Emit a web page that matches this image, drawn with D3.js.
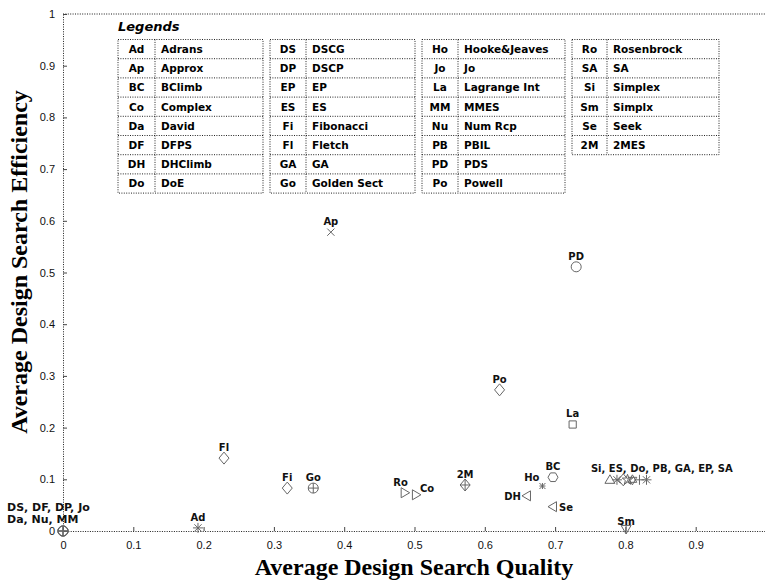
<!DOCTYPE html>
<html>
<head>
<meta charset="utf-8">
<script src="https://cdn.jsdelivr.net/npm/d3@7"></script>
<style>
  body { margin: 0; background: #fff; }
  svg { display: block; }
</style>
</head>
<body>
<svg id="chart" width="765" height="581"></svg>
<script>
// ---- Legend columns: abbreviation and full method name ----
const legendAbbr1 = ["Ad", "Ap", "BC", "Co", "Da", "DF", "DH", "Do"];
const legendName1 = ["Adrans", "Approx", "BClimb", "Complex", "David", "DFPS", "DHClimb", "DoE"];
const legendAbbr2 = ["DS", "DP", "EP", "ES", "Fi", "Fl", "GA", "Go"];
const legendName2 = ["DSCG", "DSCP", "EP", "ES", "Fibonacci", "Fletch", "GA", "Golden Sect"];
const legendAbbr3 = ["Ho", "Jo", "La", "MM", "Nu", "PB", "PD", "Po"];
const legendName3 = ["Hooke&Jeaves", "Jo", "Lagrange Int", "MMES", "Num Rcp", "PBIL", "PDS", "Powell"];
const legendAbbr4 = ["Ro", "SA", "Si", "Sm", "Se", "2M"];
const legendName4 = ["Rosenbrock", "SA", "Simplex", "Simplx", "Seek", "2MES"];

// ---- Search methods: average quality (x) and average efficiency (y) ----
const methods    = ["DS", "DF", "DP", "Jo", "Da", "Nu", "MM", "Ad", "Fl", "Fi", "Go", "Ap", "Ro", "Co", "2M",
                    "Po", "DH", "Ho", "BC", "Se", "La", "PD", "Si", "ES", "Do", "PB", "GA", "EP", "SA", "Sm"];
const quality    = [0, 0, 0, 0, 0, 0, 0, 0.192, 0.229, 0.319, 0.356, 0.381, 0.486, 0.502, 0.572,
                    0.621, 0.660, 0.682, 0.697, 0.697, 0.725, 0.730, 0.778, 0.788, 0.797, 0.803, 0.810, 0.820, 0.830, 0.801];
const efficiency = [0, 0, 0, 0, 0, 0, 0, 0.006, 0.141, 0.083, 0.083, 0.578, 0.074, 0.070, 0.089,
                    0.273, 0.068, 0.087, 0.104, 0.047, 0.206, 0.511, 0.099, 0.099, 0.099, 0.099, 0.099, 0.099, 0.099, 0.004];
const markers    = ["o", "+", "o", "+", "o", "+", "o", "*", "d", "d", "o+", "x", ">", ">", "d+",
                    "d", "<", "*s", "h", "<", "s", "o", "^", "*", "d", "p", "H", "+", "*", "v"];

// Shared labels for points that sit on top of each other
const originLabel  = ["DS, DF, DP, Jo", "Da, Nu, MM"];
const clusterLabel = "Si, ES, Do, PB, GA, EP, SA";
const clusterMembers = ["Si", "ES", "Do", "PB", "GA", "EP", "SA"];

// ---- Axis ticks ----
const xTickLabels = ["0", "0.1", "0.2", "0.3", "0.4", "0.5", "0.6", "0.7", "0.8", "0.9"];
const yTickLabels = ["0", "0.1", "0.2", "0.3", "0.4", "0.5", "0.6", "0.7", "0.8", "0.9", "1"];

const svg = d3.select("#chart");
const plotLeft = 63, plotRight = 766, plotTop = 14, plotBottom = 531;
const x = d3.scaleLinear().domain([0, 1]).range([plotLeft, plotRight]);
const y = d3.scaleLinear().domain([0, 1]).range([plotBottom, plotTop]);

const ink = "#1a1a1a";
const dotted = "1,1.4";
const sans = "'Liberation Sans', Arial, sans-serif";
const wide = "'DejaVu Sans', Verdana, sans-serif";

// ---- Frame (dotted, open on the right edge) ----
svg.append("line").attr("x1", plotLeft).attr("x2", plotRight).attr("y1", plotTop).attr("y2", plotTop)
  .attr("stroke", ink).attr("stroke-dasharray", dotted);

// ---- Axes with inward ticks ----
const xAxis = d3.axisBottom(x)
  .tickValues(xTickLabels.map(Number))
  .tickFormat((d, i) => xTickLabels[i])
  .tickSizeInner(-4).tickSizeOuter(0).tickPadding(10);
const yAxis = d3.axisLeft(y)
  .tickValues(yTickLabels.map(Number))
  .tickFormat((d, i) => yTickLabels[i])
  .tickSizeInner(-4).tickSizeOuter(0).tickPadding(8);

function styleAxis(g) {
  g.select(".domain").attr("stroke", ink).attr("stroke-dasharray", dotted);
  g.selectAll(".tick line").attr("stroke", "#444");
  g.selectAll(".tick text").attr("fill", "#111")
    .style("font-family", sans).style("font-size", "11px");
}
svg.append("g").attr("transform", `translate(0,${plotBottom})`).call(xAxis).call(styleAxis);
svg.append("g").attr("transform", `translate(${plotLeft},0)`).call(yAxis).call(styleAxis);

// ---- Axis titles ----
svg.append("text")
  .attr("x", 414).attr("y", 575)
  .attr("text-anchor", "middle")
  .style("font-family", "'Liberation Serif', 'Times New Roman', serif")
  .style("font-weight", "bold").style("font-size", "24px")
  .text("Average Design Search Quality");
svg.append("text")
  .attr("transform", "translate(27,262) rotate(-90)")
  .attr("text-anchor", "middle")
  .style("font-family", "'Liberation Serif', 'Times New Roman', serif")
  .style("font-weight", "bold").style("font-size", "24px")
  .text("Average Design Search Efficiency");

// ---- Legend tables ----
svg.append("text")
  .attr("x", 118).attr("y", 31)
  .style("font-family", wide).style("font-weight", "bold").style("font-style", "italic")
  .style("font-size", "13px")
  .text("Legends");

const tables = [
  { abbr: legendAbbr1, name: legendName1, x0: 118, xm: 155, x1: 263 },
  { abbr: legendAbbr2, name: legendName2, x0: 270, xm: 306, x1: 415 },
  { abbr: legendAbbr3, name: legendName3, x0: 422, xm: 458, x1: 565 },
  { abbr: legendAbbr4, name: legendName4, x0: 572, xm: 607, x1: 719 }
];
const rowTop = 39.5, rowH = 19.2;
tables.forEach(t => {
  const g = svg.append("g");
  const n = t.abbr.length;
  const h = n * rowH;
  const lineStyle = sel => sel.attr("stroke", "#222").attr("stroke-dasharray", dotted).attr("fill", "none");
  g.append("rect").attr("x", t.x0).attr("y", rowTop).attr("width", t.x1 - t.x0).attr("height", h).call(lineStyle);
  g.append("line").attr("x1", t.xm).attr("x2", t.xm).attr("y1", rowTop).attr("y2", rowTop + h).call(lineStyle);
  d3.range(1, n).forEach(i => {
    g.append("line").attr("x1", t.x0).attr("x2", t.x1)
      .attr("y1", rowTop + i * rowH).attr("y2", rowTop + i * rowH).call(lineStyle);
  });
  t.abbr.forEach((a, i) => {
    const cy = rowTop + i * rowH + rowH / 2 + 3.8;
    g.append("text").attr("x", (t.x0 + t.xm) / 2).attr("y", cy)
      .attr("text-anchor", "middle")
      .style("font-family", wide).style("font-weight", "bold").style("font-size", "10.5px")
      .text(a);
    g.append("text").attr("x", t.xm + 6).attr("y", cy)
      .style("font-family", wide).style("font-weight", "bold").style("font-size", "10.5px")
      .text(t.name[i]);
  });
});

// ---- Marker shapes ----
function shapePath(s, r) {
  const p = d3.path();
  const poly = pts => { pts.forEach((q, i) => i ? p.lineTo(q[0], q[1]) : p.moveTo(q[0], q[1])); p.closePath(); };
  const seg = (a, b, c, d) => { p.moveTo(a, b); p.lineTo(c, d); };
  const k = r * 0.72;
  switch (s) {
    case "o":  p.moveTo(r, 0); p.arc(0, 0, r, 0, 2 * Math.PI); break;
    case "o+": p.moveTo(r, 0); p.arc(0, 0, r, 0, 2 * Math.PI); seg(-r, 0, r, 0); seg(0, -r, 0, r); break;
    case "s":  poly([[-k, -k], [k, -k], [k, k], [-k, k]]); break;
    case "d":  poly([[0, -r * 1.2], [r, 0], [0, r * 1.2], [-r, 0]]); break;
    case "d+": poly([[0, -r * 1.2], [r, 0], [0, r * 1.2], [-r, 0]]); seg(-r, 0, r, 0); seg(0, -r * 1.2, 0, r * 1.2); break;
    case "^":  poly([[0, -r], [r, r * 0.7], [-r, r * 0.7]]); break;
    case "v":  poly([[0, r], [r, -r * 0.7], [-r, -r * 0.7]]); seg(0, -r * 0.7, 0, r); break;
    case "<":  poly([[-r, 0], [r * 0.7, -r], [r * 0.7, r]]); break;
    case ">":  poly([[r, 0], [-r * 0.7, -r], [-r * 0.7, r]]); break;
    case "x":  seg(-k, -k, k, k); seg(-k, k, k, -k); break;
    case "+":  seg(-r, 0, r, 0); seg(0, -r, 0, r); break;
    case "*":  seg(-r, 0, r, 0); seg(0, -r, 0, r); seg(-k, -k, k, k); seg(-k, k, k, -k); break;
    case "*s": { const q = r * 0.6; seg(-q, 0, q, 0); seg(0, -q, 0, q); seg(-q, -q, q, q); seg(-q, q, q, -q); break; }
    case "h":  poly(d3.range(6).map(i => [r * Math.cos(i * Math.PI / 3), r * Math.sin(i * Math.PI / 3)])); break;
    case "p":  poly(d3.range(10).map(i => {
                 const a = -Math.PI / 2 + i * Math.PI / 5, rr = i % 2 ? r * 0.45 : r * 1.1;
                 return [rr * Math.cos(a), rr * Math.sin(a)]; })); break;
    case "H":  poly([[0, -r], [r * 0.87, r * 0.5], [-r * 0.87, r * 0.5]]);
               poly([[0, r], [r * 0.87, -r * 0.5], [-r * 0.87, -r * 0.5]]); break;
  }
  return p.toString();
}

const points = methods.map((m, i) => ({ m, q: quality[i], e: efficiency[i], shape: markers[i] }));

svg.append("g").selectAll("path").data(points).join("path")
  .attr("transform", d => `translate(${x(d.q)},${y(d.e)})`)
  .attr("d", d => shapePath(d.shape, 5))
  .attr("fill", "none")
  .attr("stroke", "#666")
  .attr("stroke-width", 1);

// ---- Point labels ----
// placement per method: [text-anchor, dx, dy]
const placement = {
  Ho: ["end", -3, -5], DH: ["end", -6, 4], Se: ["start", 6, 4],
  Co: ["start", 4, -3], Ro: ["middle", -4, -7], Sm: ["middle", 0, -4]
};
const labelStyle = sel => sel.style("font-family", wide).style("font-weight", "bold")
  .style("font-size", "10px").attr("fill", "#111");

const single = points.filter(d => !(d.q === 0 && d.e === 0) && !clusterMembers.includes(d.m));
svg.append("g").selectAll("text").data(single).join("text")
  .attr("x", d => x(d.q) + (placement[d.m] ? placement[d.m][1] : 0))
  .attr("y", d => y(d.e) + (placement[d.m] ? placement[d.m][2] : -7))
  .attr("text-anchor", d => placement[d.m] ? placement[d.m][0] : "middle")
  .call(labelStyle)
  .text(d => d.m);

// grouped labels
originLabel.forEach((t, i) => {
  svg.append("text").attr("x", x(0) - 56).attr("y", y(0) - 20 + i * 11.5)
    .call(labelStyle).style("font-size", "11px").text(t);
});
const firstCluster = points.find(d => d.m === clusterMembers[0]);
svg.append("text").attr("x", x(firstCluster.q) - 19).attr("y", y(firstCluster.e) - 8)
  .call(labelStyle).text(clusterLabel);
</script>
</body>
</html>
